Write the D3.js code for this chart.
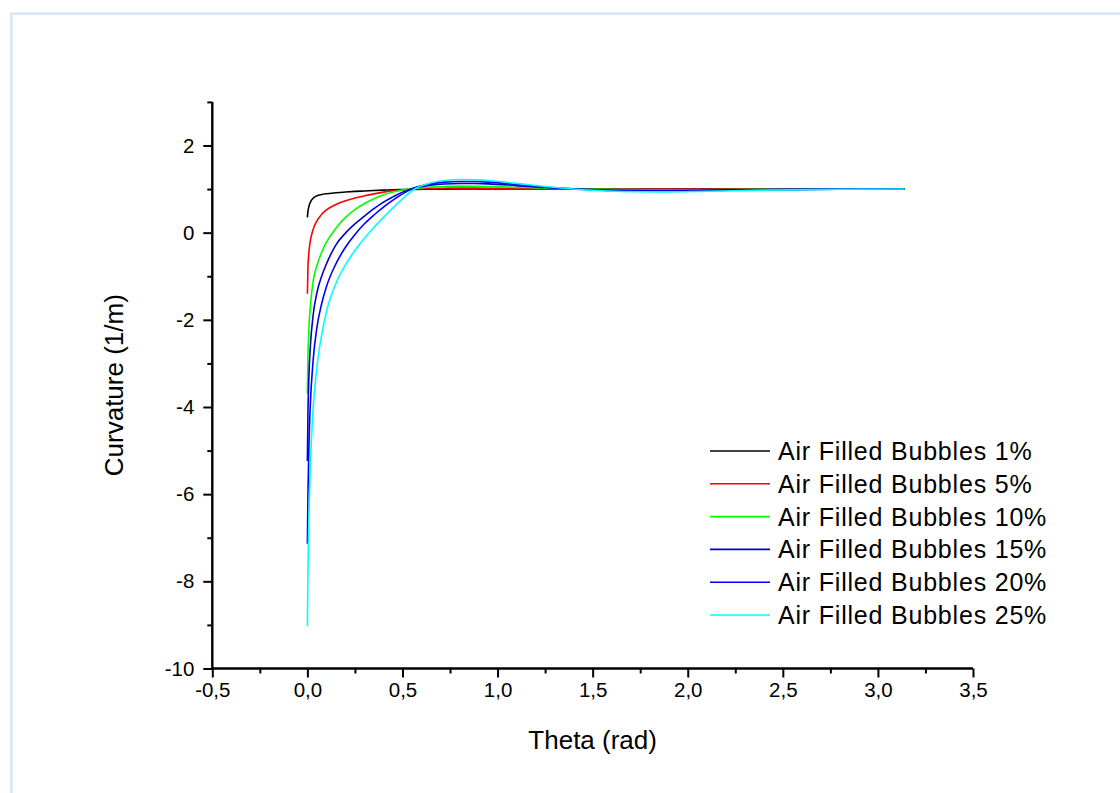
<!DOCTYPE html>
<html>
<head>
<meta charset="utf-8">
<script src="https://cdn.jsdelivr.net/npm/d3@7"></script>
<style>
  html, body { margin: 0; padding: 0; background: #ffffff; }
  svg { display: block; font-family: "Liberation Sans", Arial, sans-serif; }
</style>
</head>
<body>
<svg id="chart" width="1120" height="793"></svg>
<script>
// ---------------- data ----------------
const theta = [0, 0.003, 0.008, 0.015, 0.03, 0.05, 0.075, 0.1, 0.15, 0.2, 0.25, 0.3, 0.35, 0.4, 0.45, 0.5, 0.56, 0.65, 0.72, 0.8, 0.88, 0.95, 1.1, 1.25, 1.45, 1.65, 1.85, 2.1, 2.4, 2.8, 3.14];

const bubbles1  = [0.35, 0.49, 0.6, 0.69, 0.79, 0.845, 0.875, 0.893, 0.915, 0.932, 0.946, 0.957, 0.967, 0.975, 0.982, 0.988, 0.993, 0.997, 0.999, 1.0, 1.0, 1.0, 1.0, 1.0, 1.0, 1.0, 1.0, 1.0, 1.0, 1.0, 1.0];
const bubbles5  = [-1.4, -0.8, -0.45, -0.2, 0.07, 0.27, 0.42, 0.52, 0.645, 0.73, 0.795, 0.845, 0.89, 0.93, 0.96, 0.985, 1.003, 1.015, 1.02, 1.022, 1.021, 1.019, 1.013, 1.006, 0.999, 0.995, 0.994, 0.996, 0.999, 1.0, 1.0];
const bubbles10 = [-3.69, -2.85, -2.2, -1.72, -1.12, -0.76, -0.45, -0.22, 0.1, 0.35, 0.53, 0.67, 0.78, 0.87, 0.935, 0.98, 1.015, 1.045, 1.06, 1.068, 1.066, 1.06, 1.04, 1.02, 1.0, 0.987, 0.982, 0.986, 0.994, 0.999, 1.0];
const bubbles15 = [-5.24, -4.15, -3.3, -2.65, -1.9, -1.38, -1.0, -0.72, -0.28, -0.01, 0.2, 0.38, 0.55, 0.7, 0.82, 0.93, 1.02, 1.09, 1.116, 1.128, 1.127, 1.12, 1.08, 1.035, 0.995, 0.972, 0.966, 0.975, 0.99, 0.998, 1.0];
const bubbles20 = [-7.14, -6.0, -4.9, -3.99, -2.94, -2.18, -1.63, -1.24, -0.715, -0.335, -0.04, 0.205, 0.405, 0.585, 0.745, 0.89, 1.022, 1.12, 1.16, 1.175, 1.172, 1.16, 1.105, 1.045, 0.99, 0.958, 0.95, 0.962, 0.982, 0.997, 1.0];
const bubbles25 = [-9.03, -7.77, -6.52, -5.4, -4.05, -3.09, -2.34, -1.815, -1.165, -0.74, -0.41, -0.13, 0.12, 0.35, 0.57, 0.775, 0.99, 1.143, 1.196, 1.22, 1.212, 1.195, 1.13, 1.06, 0.985, 0.945, 0.935, 0.95, 0.975, 0.995, 1.0];

const seriesNames  = ["Air Filled Bubbles 1%", "Air Filled Bubbles 5%", "Air Filled Bubbles 10%", "Air Filled Bubbles 15%", "Air Filled Bubbles 20%", "Air Filled Bubbles 25%"];
const seriesValues = [bubbles1, bubbles5, bubbles10, bubbles15, bubbles20, bubbles25];
const seriesColors = ["#000000", "#ff0000", "#00ff00", "#0000d0", "#0000ff", "#00ffff"];

const xMajorTicks = [-0.5, 0, 0.5, 1.0, 1.5, 2.0, 2.5, 3.0, 3.5];
const xMinorTicks = [-0.25, 0.25, 0.75, 1.25, 1.75, 2.25, 2.75, 3.25];
const yMajorTicks = [-10, -8, -6, -4, -2, 0, 2];
const yMinorTicks = [-9, -7, -5, -3, -1, 1, 3];

const xTitle = "Theta (rad)";
const yTitle = "Curvature (1/m)";

// ---------------- layout ----------------
const svg = d3.select("#chart");
const x = d3.scaleLinear().domain([-0.5, 3.5]).range([212.3, 973]);
const y = d3.scaleLinear().domain([-10, 3]).range([668.5, 101.9]);

// outer light frame
svg.append("path")
  .attr("d", "M11.4,793 L11.4,13.7 L1120,13.7")
  .attr("fill", "none")
  .attr("stroke", "#dce6f1")
  .attr("stroke-width", 2.7);

// curves
const line = d3.line()
  .x(d => x(d[0]))
  .y(d => y(d[1]))
  .curve(d3.curveMonotoneX);

const plot = svg.append("g");
seriesValues.forEach((vals, i) => {
  plot.append("path")
    .datum(theta.map((t, k) => [t, vals[k]]))
    .attr("fill", "none")
    .attr("stroke", seriesColors[i])
    .attr("stroke-width", 1.6)
    .attr("stroke-linejoin", "round")
    .attr("d", line);
});

// axes
const fmtX = v => d3.format(".1f")(v).replace(".", ",").replace("\u2212", "-");
const fmtY = v => String(v);

const xAxis = svg.append("g").attr("transform", `translate(0,${y(-10)})`)
  .call(d3.axisBottom(x).tickValues(xMajorTicks).tickSize(9).tickPadding(5).tickFormat(fmtX));
const xMinor = svg.append("g").attr("transform", `translate(0,${y(-10)})`)
  .call(d3.axisBottom(x).tickValues(xMinorTicks).tickSize(5).tickFormat(""));
const yAxis = svg.append("g").attr("transform", `translate(${x(-0.5)},0)`)
  .call(d3.axisLeft(y).tickValues(yMajorTicks).tickSize(9).tickPadding(9).tickFormat(fmtY));
const yMinor = svg.append("g").attr("transform", `translate(${x(-0.5)},0)`)
  .call(d3.axisLeft(y).tickValues(yMinorTicks).tickSize(5).tickFormat(""));

[xAxis, xMinor, yAxis, yMinor].forEach(g => {
  g.select(".domain").attr("stroke", "#000").attr("stroke-width", 2)
    .attr("d", g === xAxis || g === xMinor
      ? `M${x(-0.5)},0H${x(3.5)}`
      : `M0,${y(-10)}V${y(3)}`);
  g.selectAll(".tick line").attr("stroke", "#000").attr("stroke-width", 2);
  g.selectAll(".tick text")
    .attr("fill", "#000")
    .attr("font-family", "'Liberation Sans', Arial, sans-serif")
    .attr("font-size", 20.5);
});

// axis titles
svg.append("text")
  .attr("x", (x(-0.5) + x(3.5)) / 2)
  .attr("y", 749)
  .attr("text-anchor", "middle")
  .attr("font-size", 26)
  .attr("fill", "#000")
  .text(xTitle);

svg.append("text")
  .attr("transform", `translate(123,${(y(-10) + y(3)) / 2}) rotate(-90)`)
  .attr("text-anchor", "middle")
  .attr("font-size", 26)
  .attr("fill", "#000")
  .text(yTitle);

// legend
const legend = svg.append("g");
seriesNames.forEach((name, i) => {
  const ly = 451 + i * 32.8;
  legend.append("line")
    .attr("x1", 710).attr("x2", 770)
    .attr("y1", ly).attr("y2", ly)
    .attr("stroke", seriesColors[i])
    .attr("stroke-width", 1.6);
  legend.append("text")
    .attr("x", 778)
    .attr("y", ly + 9)
    .attr("font-size", 25)
    .attr("letter-spacing", 0.8)
    .attr("fill", "#000")
    .text(name);
});
</script>
</body>
</html>
